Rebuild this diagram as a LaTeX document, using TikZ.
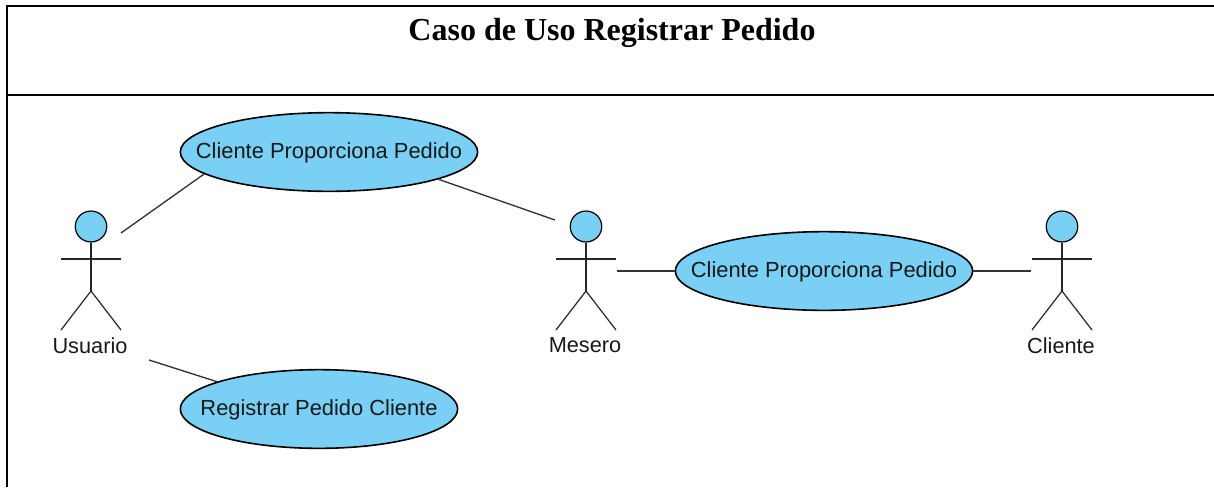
\documentclass[tikz,border=0pt]{standalone}
\usepackage{fontspec}
\setmainfont{Liberation Serif}
\newfontfamily\umlfont{Liberation Sans}
\usetikzlibrary{shapes.geometric}
\definecolor{ucblue}{RGB}{122,207,245}
\tikzset{
  x=0.75pt,y=-0.75pt,
  usecase/.style={draw=black,fill=ucblue,ellipse,inner sep=0pt,line width=1.2pt,
    label={[uctext]center:#1}},
  uctext/.style={font=\umlfont\fontsize{16.4pt}{19pt}\selectfont,text=black!90,inner sep=0pt,yshift=-1pt},
  actorlabel/.style={font=\umlfont\fontsize{16.3pt}{19pt}\selectfont,text=black!90,inner sep=0pt},
  actorhead/.style={draw=black,fill=ucblue,ellipse,minimum width=23.6pt,minimum height=23.2pt,inner sep=0pt,line width=0.9pt},
  assoc/.style={draw=black!80,line width=1pt},
  limb/.style={draw=black!85,line width=0.9pt},
  frame/.style={draw=black,line width=1.5pt},
  titletext/.style={font=\bfseries\fontsize{24pt}{28pt}\selectfont,inner sep=0pt}
}
\newcommand{\umlactor}[3]{%
  \node[actorhead] (#1head) at (#2,226.5) {};
  \coordinate (#1hip) at (#2,291);
  \coordinate (#1la) at ({#2-30},259);
  \coordinate (#1ra) at ({#2+30},259);
  \coordinate (#1lf) at ({#2-30},330);
  \coordinate (#1rf) at ({#2+30},330);
  \draw[limb] (#1head.south) -- (#1hip);
  \draw[limb] (#1la) -- (#1ra);
  \draw[limb] (#1lf) -- (#1hip) -- (#1rf);
  \node[actorlabel] (#1label) at ({#2-1},345.5) {#3};
}
\begin{document}
\begin{tikzpicture}
\useasboundingbox (0,0) rectangle (1214,487);
\fill[white] (0,0) rectangle (1214,487);
\coordinate (tl) at (7,6);
\coordinate (tr) at (1214,6);
\coordinate (ml) at (7,95);
\coordinate (mr) at (1214,95);
\coordinate (bl) at (7,487);
\draw[frame,line cap=rect] (tl) -- (tr);
\draw[frame] (ml) -- (mr);
\draw[frame] (tl) -- (bl);
\node[titletext] (title) at (612,33) {Caso de Uso Registrar Pedido};
\node[usecase={Cliente Proporciona Pedido},minimum width=223pt,minimum height=59pt] (uc1) at (329,152) {};
\node[usecase={Cliente Proporciona Pedido},minimum width=223pt,minimum height=59pt] (uc2) at (824,271) {};
\node[usecase={Registrar Pedido Cliente},minimum width=208pt,minimum height=59pt] (uc3) at (319,409) {};
\umlactor{a}{91}{Usuario}
\umlactor{b}{586}{Mesero}
\umlactor{c}{1062}{Cliente}
\coordinate (a1) at (121,233);
\coordinate (a2) at (149,360);
\coordinate (b1) at (555,220);
\coordinate (b2) at (617,271);
\coordinate (c1) at (1031,271);
\draw[assoc] (a1) -- (uc1.190.4);
\draw[assoc] (uc1.-14.5) -- (b1);
\draw[assoc] (a2) -- (uc3.165.1);
\draw[assoc] (b2) -- (uc2.west);
\draw[assoc] (uc2.east) -- (c1);
\end{tikzpicture}
\end{document}
